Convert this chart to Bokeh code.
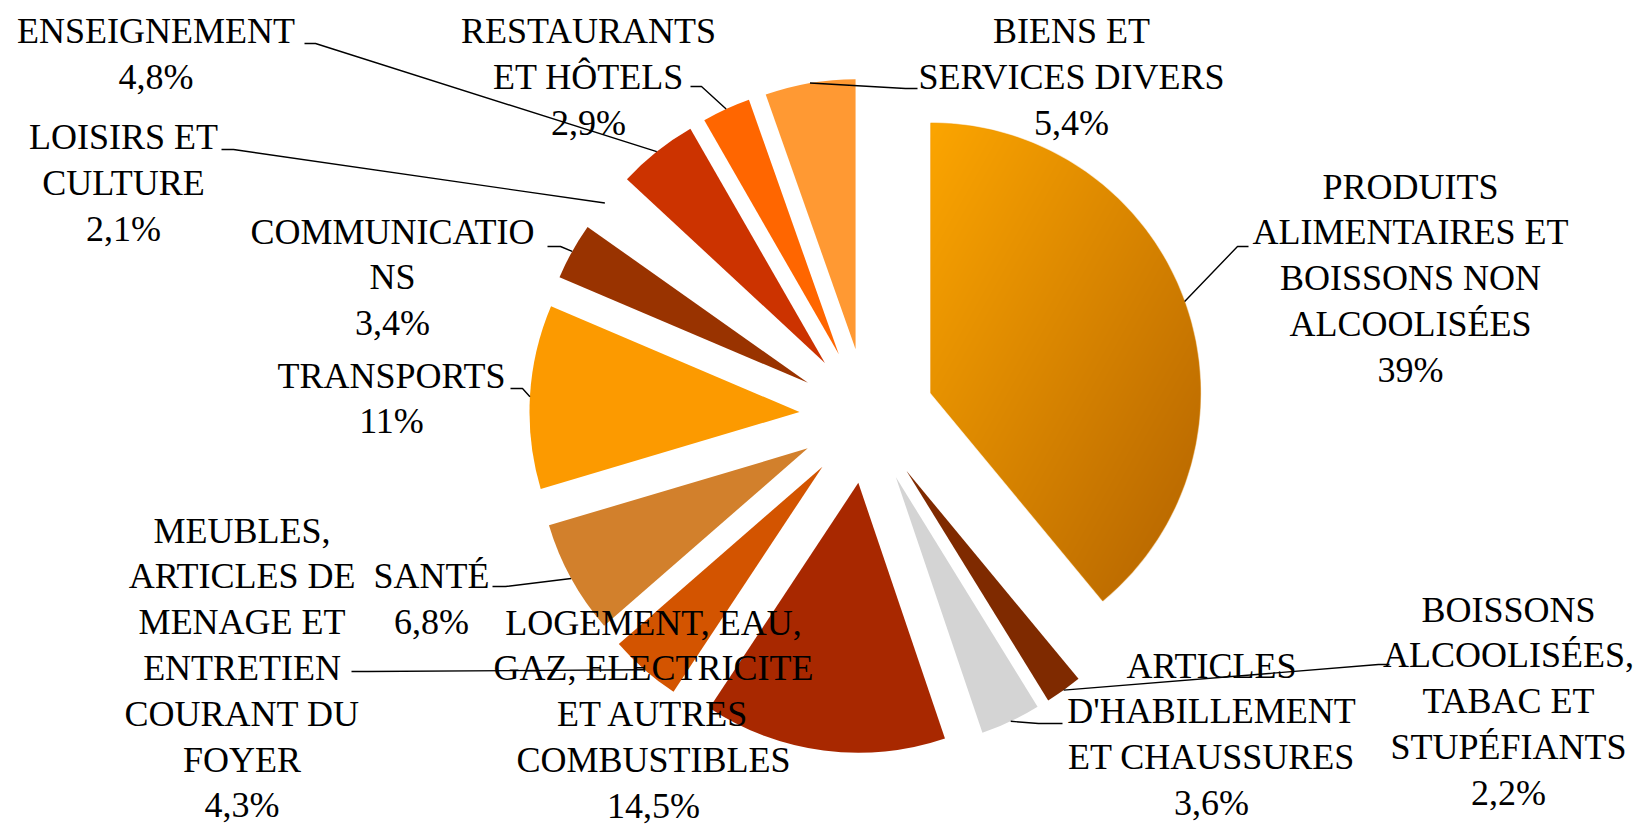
import numpy as np
from bokeh.plotting import figure
from bokeh.models import Range1d, ColumnDataSource
from bokeh.core.properties import value
from bokeh.embed import file_html
from bokeh.resources import INLINE

# ---------------- data ----------------
categories = [
    "PRODUITS\nALIMENTAIRES ET\nBOISSONS NON\nALCOOLISÉES",
    "BOISSONS\nALCOOLISÉES,\nTABAC ET\nSTUPÉFIANTS",
    "ARTICLES\nD'HABILLEMENT\nET CHAUSSURES",
    "LOGEMENT, EAU,\nGAZ, ELECTRICITE\nET AUTRES\nCOMBUSTIBLES",
    "MEUBLES,\nARTICLES DE\nMENAGE ET\nENTRETIEN\nCOURANT DU\nFOYER",
    "SANTÉ",
    "TRANSPORTS",
    "COMMUNICATIO\nNS",
    "LOISIRS ET\nCULTURE",
    "ENSEIGNEMENT",
    "RESTAURANTS\nET HÔTELS",
    "BIENS ET\nSERVICES DIVERS",
]
shares = [39.0, 2.2, 3.6, 14.5, 4.3, 6.8, 11.0, 3.4, 2.1, 4.8, 2.9, 5.4]
pct_labels = ["39%", "2,2%", "3,6%", "14,5%", "4,3%", "6,8%", "11%", "3,4%",
              "2,1%", "4,8%", "2,9%", "5,4%"]

# ---------------- styles / layout ----------------
colors = ["#E58A00", "#7F2A00", "#D4D4D4", "#A82800", "#D35400", "#D2802C",
          "#FC9A00", "#993300", "#FFFFFF", "#CC3300", "#FF6600", "#FF9933"]
grad_start = (252, 165, 0)
grad_end = (178, 98, 0)

PAGE_W, PAGE_H = 1647, 826   # data y = PAGE_H - page y
CX, CY = 866.5, 415.3
EXPLODE = 67.6
R = 270.0
LINE_H = 45.8
FONT = "Liberation Serif"
FONT_SIZE = "36px"

label_cx = [1410, 1508, 1211, 653, 241.6, 431, 391, 392, 123, 155.5, 588, 1071]
label_y1 = [186, 609, 665, 622, 530, 575.6, 375, 231, 136.5, 30.5, 30.5, 30.5]
elbow_x = [1237, 1378, 1038, None, 367, 505, 522, 560, 233, 315, 701, 905]
elbow_y = [246, 664, 723, None, 671, 586, 388, 246, 149, 43, 86, 88]
stub_x = [1248, 1389, 1062, None, 351, 492, 510, 547, 221, 304, 690, 917]


def Y(page_y):
    return PAGE_H - np.asarray(page_y, dtype=float)


# ---------------- geometry ----------------
sh = np.array(shares)
cum = np.concatenate([[0], np.cumsum(sh)]) / sh.sum() * 360.0
a_start = cum[:-1]
a_end = cum[1:]
a_mid = (a_start + a_end) / 2
mid_r = np.radians(a_mid)
apex_x = CX + EXPLODE * np.sin(mid_r)
apex_py = CY - EXPLODE * np.cos(mid_r)

p = figure(width=PAGE_W, height=PAGE_H, x_range=Range1d(0, PAGE_W), y_range=Range1d(0, PAGE_H),
           output_backend="svg", toolbar_location=None, min_border=0,
           x_axis_type=None, y_axis_type=None)
p.grid.visible = False
p.outline_line_color = None
p.background_fill_color = "white"
p.border_fill_color = "white"

src = ColumnDataSource(dict(
    x=apex_x, y=Y(apex_py),
    start=np.radians(90 - a_end), end=np.radians(90 - a_start),
    color=colors,
))
p.wedge(x="x", y="y", radius=R, start_angle="start", end_angle="end",
        direction="anticlock", fill_color="color", line_color=None, source=src)

# gradient overlay for the largest slice
i0 = 0
ax, ay = apex_x[i0], apex_py[i0]
t1, t2 = np.radians(a_start[i0]), np.radians(a_end[i0])
x0 = int(np.floor(ax))
x1 = int(np.ceil(ax + R)) + 1
y0 = int(np.floor(ay - R)) - 1
y1 = int(np.ceil(ay + R * max(-np.cos(t2), -np.cos(t1)))) + 1
W, H = x1 - x0, y1 - y0
px = x0 + 0.5 + np.arange(W)[None, :]
py = y0 + 0.5 + np.arange(H)[:, None]
vx, vy = px - ax, py - ay
d1 = vx * np.cos(t1) + vy * np.sin(t1)
d2 = -(vx * np.cos(t2) + vy * np.sin(t2))
dist = np.hypot(vx, vy)
cov = np.clip(np.minimum(np.minimum(d1, d2), R - dist) + 0.5, 0, 1)
tt = np.clip(((px - x0) / W + (py - y0) / H) / 2, 0, 1)
img = np.empty((H, W), dtype=np.uint32)
view = img.view(dtype=np.uint8).reshape((H, W, 4))
for k in range(3):
    view[:, :, k] = np.round(grad_start[k] + (grad_end[k] - grad_start[k]) * tt).astype(np.uint8)
view[:, :, 3] = np.round(cov * 255).astype(np.uint8)
img = img[::-1].copy()
p.image_rgba(image=[img], x=x0, y=float(Y(y1)), dw=W, dh=H)

# leader lines
xs, ys = [], []
for i in range(len(shares)):
    if elbow_x[i] is None:
        continue
    ex = apex_x[i] + R * np.sin(mid_r[i])
    ey = apex_py[i] - R * np.cos(mid_r[i])
    xs.append([ex, elbow_x[i], stub_x[i]])
    ys.append(list(Y([ey, elbow_y[i], elbow_y[i]])))
p.multi_line(xs=xs, ys=ys, line_color="black", line_width=1.4)

# labels
tx, ty, tt_ = [], [], []
for i, cat in enumerate(categories):
    lines = cat.split("\n") + [pct_labels[i]]
    for k, ln in enumerate(lines):
        tx.append(label_cx[i])
        ty.append(float(Y(label_y1[i] + k * LINE_H)))
        tt_.append(ln)
p.text(x=tx, y=ty, text=tt_, text_align="center", text_baseline="middle",
       text_font=value(FONT), text_font_size=FONT_SIZE, text_color="black")

open("out.html", "w").write(file_html(p, INLINE))
